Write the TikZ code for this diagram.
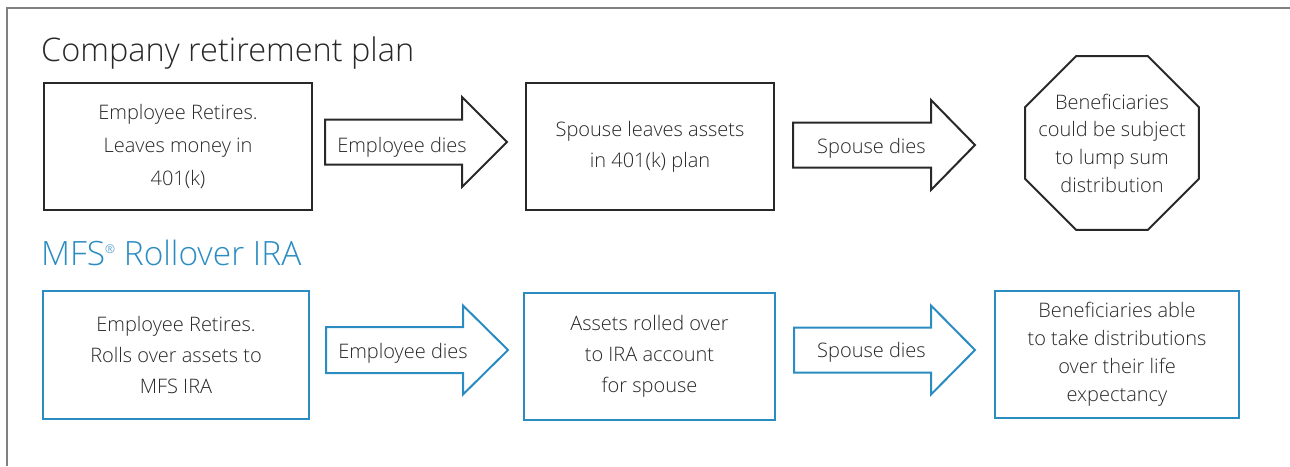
\documentclass[tikz,border=0pt]{standalone}
\usepackage{fontspec}
\IfFontExistsTF{Open Sans Light}{\setmainfont{Open Sans Light}}{\setmainfont{Open Sans}}
\usepackage{xcolor}
\usepackage{tikz}
\usetikzlibrary{shapes.geometric}

\definecolor{mfsblue}{RGB}{43,140,193}
\definecolor{inkgray}{RGB}{40,40,40}
\definecolor{framegray}{RGB}{128,128,128}

\begin{document}
\begin{tikzpicture}[x=1pt, y=-1pt,
		plainbox/.style={draw=inkgray, line width=2pt, rectangle, align=center, text=inkgray, inner sep=0pt, font=\fontsize{20}{31}\selectfont},
		bluebox/.style={plainbox, draw=mfsblue},
		planline/.style={draw=inkgray, line width=2pt, line join=miter},
		blueline/.style={planline, draw=mfsblue},
		arrowtext/.style={anchor=base, text=inkgray, inner sep=0pt, font=\fontsize{20}{24}\selectfont},
		headline/.style={anchor=base west, inner sep=0pt, font=\fontsize{32.5}{36}\selectfont}]
		
		% Fix the page size
		\useasboundingbox (0,0) rectangle (1290,466);
		
		% Grey frame on the left and at the top
		\draw[framegray, line width=2pt] (7,466) -- (7,8) -- (1290,8);
		
		% Coordinates for the block arrows (left end of the shaft, on the middle line)
		\coordinate (A1) at (325,142);   % employee dies, plan
		\coordinate (A2) at (793,145);   % spouse dies, plan
		\coordinate (B1) at (326,350);   % employee dies, IRA
		\coordinate (B2) at (794,350);   % spouse dies, IRA
		
		% Company retirement plan
		\node[headline, text=inkgray] (plantitle) at (41,61) {Company retirement plan};
		
		\node[plainbox, minimum width=268, minimum height=127, font=\fontsize{20}{33}\selectfont] (retire) at (178,146.5) {Employee Retires.\\Leaves money in\\401(k)};
		
		\draw[planline] (A1) ++(0,-22.5) -- ++(137,0) -- ++(0,-22.5) -- ++(45,45) -- ++(-45,45) -- ++(0,-22.5) -- ++(-137,0) -- cycle;
		\node[arrowtext] (empdies) at (402,152) {Employee dies};
		
		\node[plainbox, minimum width=248, minimum height=127] (spouse) at (650,146.5) {Spouse leaves assets\\in 401(k) plan};
		
		\draw[planline] (A2) ++(0,-22.5) -- ++(138,0) -- ++(0,-22.5) -- ++(44,45) -- ++(-44,45) -- ++(0,-22.5) -- ++(-138,0) -- cycle;
		\node[arrowtext] (spdies) at (871.5,153) {Spouse dies};
		
		% Octagon (stop sign) and its text
		\node[draw=inkgray, line width=2pt, regular polygon, regular polygon sides=8, minimum size=188, inner sep=0pt] (stop) at (1112,143) {};
		\node[align=center, text=inkgray, inner sep=0pt, font=\fontsize{20}{27.7}\selectfont] (lump) at (stop.center) {Beneficiaries\\could be subject\\to lump sum\\distribution};
		
		% MFS Rollover IRA
		\node[headline, text=mfsblue, font=\fontsize{33.5}{36}\selectfont] (iratitle) at (41,265) {MFS\raisebox{12pt}{\fontsize{12}{12}\selectfont ®} Rollover IRA};
		
		\node[bluebox, minimum width=266, minimum height=128] (rollover) at (176,355) {Employee Retires.\\Rolls over assets to\\MFS IRA};
		
		\draw[blueline] (B1) ++(0,-23) -- ++(137,0) -- ++(0,-21.5) -- ++(45,44.5) -- ++(-45,44.5) -- ++(0,-21.5) -- ++(-137,0) -- cycle;
		\node[arrowtext] (empdies2) at (403,358) {Employee dies};
		
		\node[bluebox, minimum width=251, minimum height=127] (rolled) at (649.5,356.5) {Assets rolled over\\to IRA account\\for spouse};
		
		\draw[blueline] (B2) ++(0,-22.5) -- ++(137,0) -- ++(0,-22) -- ++(44,44.5) -- ++(-44,44.5) -- ++(0,-22) -- ++(-137,0) -- cycle;
		\node[arrowtext] (spdies2) at (871.5,357) {Spouse dies};
		
		\node[bluebox, minimum width=244, minimum height=127, font=\fontsize{20}{28}\selectfont] (lifeexp) at (1117,354.5) {Beneficiaries able\\to take distributions\\over their life\\expectancy};
		
	\end{tikzpicture}
\end{document}
